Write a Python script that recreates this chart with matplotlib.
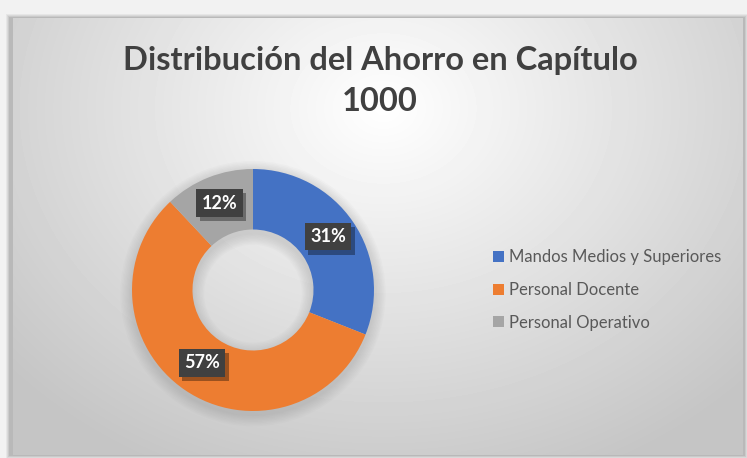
import matplotlib
matplotlib.use("Agg")
import matplotlib.pyplot as plt
import matplotlib.patheffects as pe
import numpy as np
from matplotlib.patches import Rectangle, Wedge

# Chart data
categories = ["Mandos Medios y Superiores", "Personal Docente", "Personal Operativo"]
shares = [31, 57, 12]
colors = ["#4472C4", "#ED7D31", "#A5A5A5"]
title = "Distribución del Ahorro en Capítulo\n1000"

W, H = 747, 458
plt.rcParams["font.family"] = ["Lato", "DejaVu Sans"]

fig = plt.figure(figsize=(W / 100, H / 100), dpi=100)
fig.patch.set_facecolor("#f2f2f2")

# Background: framed panel with a soft radial gradient
bg = fig.add_axes([0, 0, 1, 1])
bg.axis("off")

# drop shadow around the panel
for i, a in enumerate([0.10, 0.12, 0.16, 0.22]):
    pad = 4 - i
    bg.add_patch(Rectangle((10 - pad, 18 - pad), 734 + 2 * pad, 437 + 2 * pad,
                           facecolor="#808080", edgecolor="none", alpha=a, zorder=1))

yy, xx = np.mgrid[0:437, 0:730]
d = np.sqrt(((xx - 370) / 520.0) ** 2 + ((yy - 90) / 420.0) ** 2)
shade = np.clip(1.0 - 0.24 * d, 0.77, 1.0)
bg.imshow(shade, cmap="gray", vmin=0, vmax=1, extent=(13, 743, 455, 18),
          interpolation="bilinear", zorder=2, aspect="auto")
bg.set_xlim(0, W)
bg.set_ylim(H, 0)

# Title
fig.text(0.509, 1 - 46 / H, title, ha="center", va="top", fontsize=23.5,
         fontweight="bold", color="#404040", linespacing=1.5)

# Donut
cx, cy, r = 253, 290, 121
ax = fig.add_axes([(cx - r) / W, (H - cy - r) / H, 2 * r / W, 2 * r / H])
ax.set_facecolor("none")

# soft shadow around the ring (outer halo and inner rim of the hole)
for k in range(8):
    grow = 0.012 * (8 - k)
    ax.add_patch(Wedge((0.0, -0.03), 1.0 + grow, 0, 360, width=0.5 + 2 * grow,
                       facecolor="#7a7a7a", edgecolor="none", alpha=0.03,
                       zorder=0, clip_on=False))

wedges, _ = ax.pie(shares, colors=colors, startangle=90, counterclock=False,
                   radius=1.0, wedgeprops=dict(width=0.5, edgecolor="none"))
for w in wedges:
    w.set_zorder(2)
ax.set_xlim(-1, 1)
ax.set_ylim(-1, 1)
ax.set_aspect("equal")
ax.axis("off")

# Percentage labels in dark boxes, centred on each ring segment
total = float(sum(shares))
start = 90.0
for v in shares:
    span = 360.0 * v / total
    mid = np.deg2rad(start - span / 2)
    x, y = 0.75 * np.cos(mid), 0.75 * np.sin(mid) + 0.02
    t = ax.text(x, y, f"{v}%", ha="center", va="center", fontsize=13,
                fontweight="bold", color="white", zorder=4,
                bbox=dict(boxstyle="square,pad=0.3", facecolor="#404040",
                          edgecolor="none"))
    t.get_bbox_patch().set_path_effects([
        pe.SimplePatchShadow(offset=(2.5, -3), shadow_rgbFace="#000000", alpha=0.35),
        pe.Normal()])
    start -= span

# Legend
leg = fig.legend(wedges, categories, loc="center left",
                 bbox_to_anchor=(478 / W, 1 - 290 / H), frameon=False,
                 fontsize=12, labelcolor="#595959", handlelength=0.65,
                 handleheight=0.65, handletextpad=0.3, labelspacing=1.0)

fig.savefig("out.png", dpi=100, facecolor=fig.get_facecolor())
